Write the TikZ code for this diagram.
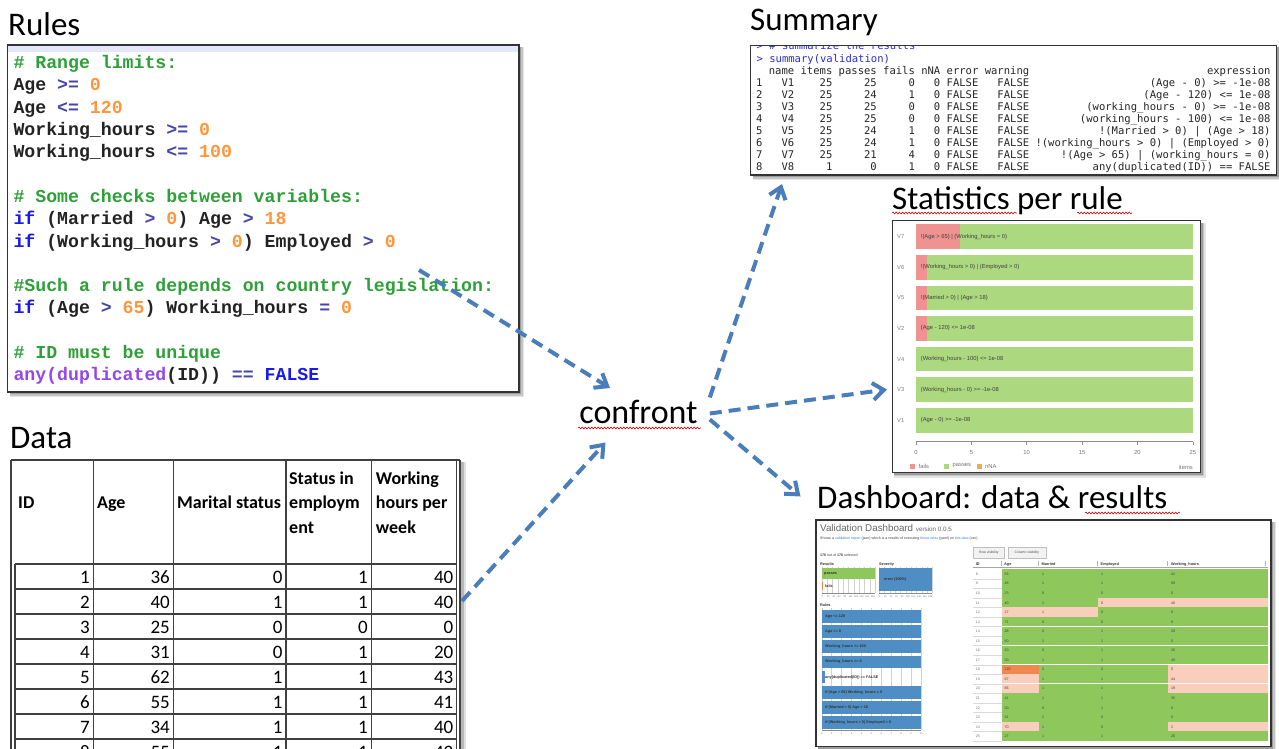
\documentclass[tikz,border=0pt]{standalone}
\usepackage{fontspec}
\setmainfont{Carlito}
\newfontfamily\codefont{Liberation Mono}
\newfontfamily\consfont{DejaVu Sans Mono}
\newfontfamily\uifont{Liberation Sans}
\usetikzlibrary{arrows.meta,calc,decorations.pathmorphing}

\definecolor{flowblue}{RGB}{74,126,187}
\definecolor{cmt}{RGB}{45,160,55}
\definecolor{num}{RGB}{255,150,60}
\definecolor{opr}{RGB}{70,70,170}
\definecolor{kwd}{RGB}{25,25,235}
\definecolor{fnc}{RGB}{150,70,230}
\definecolor{txt}{RGB}{35,35,35}
\definecolor{rblue}{RGB}{45,45,200}
\definecolor{failp}{RGB}{238,146,146}
\definecolor{passg}{RGB}{172,216,128}
\definecolor{nnao}{RGB}{240,170,80}
\definecolor{dgreen}{RGB}{142,200,92}
\definecolor{salmon}{RGB}{250,206,188}
\definecolor{hotor}{RGB}{238,136,80}
\definecolor{dblue}{RGB}{78,142,196}
\definecolor{linkb}{RGB}{60,130,230}
\definecolor{lav}{RGB}{228,230,250}

% right edge of a character column in the R console output
\newcommand\colx[1]{762.7+6.35*#1}

% framed panel with a soft drop shadow: name, x1, y1, x2, y2
\newcommand\panel[5]{%
  \fill[black,opacity=.10] (#2+2,#3+2) rectangle (#4+5,#5+5);
  \fill[black,opacity=.14] (#2+2,#3+2) rectangle (#4+3.5,#5+3.5);
  \fill[black,opacity=.20] (#2+2,#3+2) rectangle (#4+2,#5+2);
  \node[panel, minimum width={#4-#2}, minimum height={#5-#3}, anchor=north west] (#1) at (#2,#3) {};}

\begin{document}
\begin{tikzpicture}[x=1pt,y=-1pt,
  flow/.style={draw=flowblue, line width=4pt, dash pattern=on 12pt off 7pt,
    -{Straight Barb[length=11pt,width=17pt]}},
  panel/.style={draw=black!80, line width=1.4pt, fill=white, inner sep=0pt, outer sep=0pt},
  title/.style={anchor=base west, inner sep=0pt, font=\fontsize{33}{40}\selectfont},
  code/.style={anchor=base west, inner sep=0pt, text=txt, font=\codefont\bfseries\fontsize{18.2}{22}\selectfont},
  spell/.style={draw=red!85!black, line width=0.6pt, decorate,
    decoration={snake, amplitude=0.9pt, segment length=3.2pt}},
  tbl/.style={draw=black!75, line width=1.3pt},
  hdr/.style={anchor=base west, inner sep=0pt, font=\bfseries\fontsize{18}{25}\selectfont},
  dat/.style={anchor=base east, inner sep=0pt, font=\fontsize{19}{22}\selectfont},
  rc/.style={anchor=base east, inner sep=0pt, text=black!85, font=\consfont\fontsize{10.55}{12}\selectfont},
  ct/.style={inner sep=0pt, text=black!75, font=\uifont\fontsize{5.8}{7}\selectfont},
  dt/.style={anchor=base west, inner sep=0pt, text=black!75, font=\uifont\fontsize{3.6}{4}\selectfont},
  dtb/.style={anchor=base west, inner sep=0pt, text=black!80, font=\uifont\bfseries\fontsize{3.8}{4}\selectfont},
  dm/.style={inner sep=0pt, text=black!55, font=\uifont\fontsize{2.4}{3}\selectfont},
]
\path[use as bounding box] (0,0) rectangle (1279,749);
\clip (0,0) rectangle (1279,749);
\fill[white] (0,0) rectangle (1279,749);

% ---------------- titles ----------------
\node[title] (t-rules) at (8,36) {Rules};
\node[title] (t-summary) at (750,31) {Summary};
\node[title] (t-stats) at (892,209) {Statistics per rule};
\node[title] (t-data) at (10,448) {Data};
\node[title] (t-dash) at (817,508) {Dashboard: data \& results};
\node[anchor=base, inner xsep=12pt, inner ysep=2pt, font=\fontsize{34}{40}\selectfont] (confront) at (638.5,423) {confront};

\draw[spell] (578,428) -- (701,428);
\draw[spell] (892,213) -- (1017,213);
\draw[spell] (1077,213) -- (1132,213);
\draw[spell] (1085,513) -- (1180,513);

% ---------------- validation rules ----------------
\panel{rulesbox}{7.5}{45}{519}{392}
\fill[lav] (8.2,45.7) rectangle (518.3,52);
\node[code] (r1) at (13.3,68.3) {\textcolor{cmt}{\# Range limits:}};
\node[code] (r2) at (13.3,90.7) {Age \textcolor{opr}{>=} \textcolor{num}{0}};
\node[code] (r3) at (13.3,113.1) {Age \textcolor{opr}{<=} \textcolor{num}{120}};
\node[code] (r4) at (13.3,135.5) {Working\_hours \textcolor{opr}{>=} \textcolor{num}{0}};
\node[code] (r5) at (13.3,157.9) {Working\_hours \textcolor{opr}{<=} \textcolor{num}{100}};
\node[code] (r6) at (13.3,202.2) {\textcolor{cmt}{\# Some checks between variables:}};
\node[code] (r7) at (13.3,224.6) {\textcolor{kwd}{if} (Married \textcolor{opr}{>} \textcolor{num}{0}) Age \textcolor{opr}{>} \textcolor{num}{18}};
\node[code] (r8) at (13.3,247) {\textcolor{kwd}{if} (Working\_hours \textcolor{opr}{>} \textcolor{num}{0}) Employed \textcolor{opr}{>} \textcolor{num}{0}};
\node[code] (r9) at (13.3,291.3) {\textcolor{cmt}{\#Such a rule depends on country legislation:}};
\node[code] (r10) at (13.3,313.7) {\textcolor{kwd}{if} (Age \textcolor{opr}{>} \textcolor{num}{65}) Working\_hours \textcolor{opr}{=} \textcolor{num}{0}};
\node[code] (r11) at (13.3,358.3) {\textcolor{cmt}{\# ID must be unique}};
\node[code] (r12) at (13.3,380.5) {\textcolor{fnc}{any(duplicated}(ID)) \textcolor{opr}{==} \textcolor{kwd}{FALSE}};

% ---------------- data table ----------------
\fill[black,opacity=.12] (461,462) rectangle (466,749);
\fill[black,opacity=.18] (461,462) rectangle (463.5,749);
\draw[tbl] (11,460) -- (460,460);
\foreach \xx in {11,93.3,173.3,286,371.7,456.7,460}
  \draw[tbl] (\xx,460) -- (\xx,760);
\draw[tbl] (15,564) -- (15,760);
\foreach \yy in {564,589,614,639,664,689,714,739}
  \draw[tbl] (15,\yy) -- (456.7,\yy);
\node[hdr] (h-id) at (18,508) {ID};
\node[hdr] (h-age) at (97,508) {Age};
\node[hdr] (h-mar) at (177,508) {Marital status};
\node[hdr] (h-st1) at (289,484) {Status in};
\node[hdr] (h-st2) at (289,508) {employm};
\node[hdr] (h-st3) at (289,533) {ent};
\node[hdr] (h-wh1) at (375.7,484) {Working};
\node[hdr] (h-wh2) at (375.7,508) {hours per};
\node[hdr] (h-wh3) at (375.7,533) {week};
\foreach \va/\vb/\vc/\vd/\ve [count=\i] in
  {1/36/0/1/40, 2/40/1/1/40, 3/25/0/0/0, 4/31/0/1/20, 5/62/1/1/43, 6/55/1/1/41, 7/34/1/1/40, 8/55/1/1/42}
{
  \pgfmathsetmacro\yy{558+25*\i}
  \node[dat] (d\i-a) at (90,\yy) {\va};
  \node[dat] (d\i-b) at (170,\yy) {\vb};
  \node[dat] (d\i-c) at (282.7,\yy) {\vc};
  \node[dat] (d\i-d) at (368,\yy) {\vd};
  \node[dat] (d\i-e) at (453.5,\yy) {\ve};
}

% ---------------- summary console output ----------------
\panel{sumbox}{750.5}{45.5}{1276.5}{175}
\begin{scope}
  \clip (751.2,46.4) rectangle (1275.8,174.3);
  \node[rc, anchor=base west, text=rblue] (s-l0) at (756.4,49.3) {> \# summarize the results};
\end{scope}
\node[rc, anchor=base west, text=rblue] (s-l1) at (756.4,63) {> summary(validation)};
\node[rc] (s-h1) at (\colx{5},75) {name};
\node[rc] (s-h2) at (\colx{11},75) {items};
\node[rc] (s-h3) at (\colx{18},75) {passes};
\node[rc] (s-h4) at (\colx{24},75) {fails};
\node[rc] (s-h5) at (\colx{28},75) {nNA};
\node[rc] (s-h6) at (\colx{34},75) {error};
\node[rc] (s-h7) at (\colx{42},75) {warning};
\node[rc] (s-h8) at (\colx{80},75) {expression};
\foreach \rn/\rname/\ritems/\rpass/\rfail/\rna/\rexp [count=\i] in {
  1/V1/25/25/0/0/{(Age - 0) >= -1e-08},
  2/V2/25/24/1/0/{(Age - 120) <= 1e-08},
  3/V3/25/25/0/0/{(working\_hours - 0) >= -1e-08},
  4/V4/25/25/0/0/{(working\_hours - 100) <= 1e-08},
  5/V5/25/24/1/0/{!(Married > 0) | (Age > 18)},
  6/V6/25/24/1/0/{!(working\_hours > 0) | (Employed > 0)},
  7/V7/25/21/4/0/{!(Age > 65) | (working\_hours = 0)},
  8/V8/1/0/1/0/{any(duplicated(ID)) == FALSE}}
{
  \pgfmathsetmacro\yy{75+11.94*\i}
  \node[rc] (s\i-n) at (\colx{0},\yy) {\rn};
  \node[rc] (s\i-v) at (\colx{5},\yy) {\rname};
  \node[rc] (s\i-i) at (\colx{11},\yy) {\ritems};
  \node[rc] (s\i-p) at (\colx{18},\yy) {\rpass};
  \node[rc] (s\i-f) at (\colx{24},\yy) {\rfail};
  \node[rc] (s\i-a) at (\colx{28},\yy) {\rna};
  \node[rc] (s\i-e) at (\colx{34},\yy) {FALSE};
  \node[rc] (s\i-w) at (\colx{42},\yy) {FALSE};
  \node[rc] (s\i-x) at (\colx{80},\yy) {\rexp};
}

% ---------------- statistics per rule (bar chart) ----------------
\panel{statbox}{892.3}{220.7}{1200.7}{472.7}
\foreach \lab/\nfail/\ex [count=\i from 0] in {
  V7/4/{!(Age > 65) | (Working\_hours = 0)},
  V6/1/{!(Working\_hours > 0) | (Employed > 0)},
  V5/1/{!(Married > 0) | (Age > 18)},
  V2/1/{(Age - 120) <= 1e-08},
  V4/0/{(Working\_hours - 100) <= 1e-08},
  V3/0/{(Working\_hours - 0) >= -1e-08},
  V1/0/{(Age - 0) >= -1e-08}}
{
  \pgfmathsetmacro\yt{224.3+30.6*\i}
  \fill[passg] (916,\yt) rectangle (1192.7,\yt+24.7);
  \ifnum\nfail>0 \fill[failp] (916,\yt) rectangle (916+11.07*\nfail,\yt+24.7);\fi
  \node[ct, anchor=west] (sb\i) at (920.7,\yt+12.35) {\ex};
  \node[ct, text=black!50] (sv\i) at (900.7,\yt+12.35) {\lab};
}
\draw[black!45, line width=0.5pt] (916,441.7) -- (1192.7,441.7);
\foreach \tv [count=\k] in {0,5,10,15,20,25} {
  \draw[black!45, line width=0.5pt] (916+11.07*\tv,441.7) -- ++(0,3);
  \node[ct, text=black!55] (tk\k) at (916+11.07*\tv,452.7) {\tv};
}
\fill[failp] (910.2,463.5) rectangle ++(5,5);
\node[ct, anchor=west, text=black!55] (lg1) at (918.5,466) {fails};
\fill[passg] (944.2,463.5) rectangle ++(5,5);
\node[ct, anchor=west, text=black!55] (lg2) at (952.5,466) {passes};
\fill[nnao] (976.8,463.5) rectangle ++(5,5);
\node[ct, anchor=west, text=black!55] (lg3) at (985,466) {nNA};
\node[ct, anchor=east, text=black!55] (lg4) at (1193,467.5) {items};

% ---------------- dashboard screenshot ----------------
\panel{dashbox}{816}{520}{1271}{746.7}
\node[anchor=base west, inner sep=0pt, text=black!60, font=\uifont\fontsize{9.8}{11}\selectfont] (db-title) at (820,531)
  {Validation Dashboard {\fontsize{6.3}{7}\selectfont version 0.0.5}};
\node[dt] (db-sub) at (820,539.5) {Shows a \textcolor{linkb}{validation report} (json) which is a results of executing \textcolor{linkb}{these rules} (yaml) on \textcolor{linkb}{this data} (csv).};
\node[dt] (db-sel) at (820,556) {\textbf{176} out of \textbf{176} selected};
\node[dtb] (db-res) at (820,565) {Results};
\node[dtb] (db-sev) at (879,565) {Severity};
\foreach \k in {0,...,10} {
  \draw[black!18, line width=0.3pt] (821.7+5.33*\k,566.5) -- (821.7+5.33*\k,593);
  \draw[black!18, line width=0.3pt] (879+5.33*\k,566.5) -- (879+5.33*\k,593);
}
\fill[dgreen] (821.7,568.3) rectangle (875,579);
\fill[hotor] (821.7,581.7) rectangle (823.2,590);
\node[dtb, anchor=west] (db-pass) at (824,573.7) {passes};
\node[dtb, anchor=west] (db-fail) at (825,585.8) {fails};
\fill[dblue] (879,568.3) rectangle (932.3,591);
\node[dtb, anchor=west] (db-err) at (884,579.6) {error (100\%)};
\draw[black!45, line width=0.3pt] (821.7,593) -- (875,593);
\draw[black!45, line width=0.3pt] (879,593) -- (932.3,593);
\foreach \k in {0,...,9} {
  \node[dm] (rt\k) at (822.5+5.6*\k,597) {\pgfmathparse{int(20*\k)}\pgfmathresult};
  \node[dm] (vt\k) at (879.8+5.6*\k,597) {\pgfmathparse{int(20*\k)}\pgfmathresult};
}
\node[dtb] (db-rules) at (820,606.5) {Rules};
\foreach \k in {0,...,10}
  \draw[black!18, line width=0.3pt] (821.7+9.93*\k,608) -- (821.7+9.93*\k,730);
\foreach \lab/\bw [count=\i from 0] in {
  {Age <= 120}/99.3, {Age >= 0}/99.3, {Working\_hours <= 100}/99.3, {Working\_hours >= 0}/99.3,
  {any(duplicated(ID)) == FALSE}/3.5, {if (Age > 65) Working\_hours = 0}/99.3,
  {if (Married > 0) Age > 18}/99.3, {if (Working\_hours > 0) Employed > 0}/99.3}
{
  \pgfmathsetmacro\yt{610+15.2*\i}
  \fill[dblue] (821.7,\yt) rectangle (821.7+\bw,\yt+12.6);
  \node[dtb, anchor=west] (rb\i) at (825,\yt+6.3) {\lab};
}
\draw[black!45, line width=0.3pt] (821.7,730) -- (921,730);
\foreach \k in {0,...,10}
  \node[dm] (rx\k) at (821.7+9.93*\k,734) {\k};

% data grid of the dashboard
\node[draw=black!25, fill=black!5, minimum width=31pt, minimum height=11pt, inner sep=0pt,
  font=\uifont\fontsize{3.4}{4}\selectfont, text=black!70] (btn-row) at (988.8,552.2) {Row visibility};
\node[draw=black!25, fill=black!5, minimum width=37.7pt, minimum height=11pt, inner sep=0pt,
  font=\uifont\fontsize{3.4}{4}\selectfont, text=black!70] (btn-col) at (1026.9,552.2) {Column visibility};
\node[dtb] (gh-id) at (975.7,565) {ID};
\node[dtb] (gh-age) at (1004,565) {Age};
\node[dtb] (gh-mar) at (1041.5,565) {Married};
\node[dtb] (gh-emp) at (1100.5,565) {Employed};
\node[dtb] (gh-wh) at (1171,565) {Working\_hours};
\foreach \xx in {1002,1039.3,1098.3,1168.3,1266}
  \draw[black!30, line width=0.3pt] (\xx-1,561) -- (\xx-1,565.5);
\draw[black!35, line width=0.5pt] (973,567.6) -- (1268.3,567.6);
\foreach \rid/\gA/\gM/\gE/\gW/\cA/\cM/\cE/\cW [count=\i from 0] in {
  8/55/1/1/42/dgreen/dgreen/dgreen/dgreen,
  9/46/1/1/58/dgreen/dgreen/dgreen/dgreen,
  10/23/0/0/0/dgreen/dgreen/dgreen/dgreen,
  11/40/1/0/40/dgreen/dgreen/salmon/salmon,
  12/17/1/0/0/salmon/salmon/dgreen/dgreen,
  13/71/0/0/0/dgreen/dgreen/dgreen/dgreen,
  14/28/0/1/28/dgreen/dgreen/dgreen/dgreen,
  15/60/1/1/5/dgreen/dgreen/dgreen/dgreen,
  16/20/0/1/26/dgreen/dgreen/dgreen/dgreen,
  17/30/1/1/40/dgreen/dgreen/dgreen/dgreen,
  18/125/0/0/0/hotor/dgreen/dgreen/salmon,
  19/67/1/1/44/salmon/dgreen/dgreen/salmon,
  20/66/1/1/19/salmon/dgreen/dgreen/salmon,
  21/41/1/1/35/dgreen/dgreen/dgreen/dgreen,
  22/30/0/1/0/dgreen/dgreen/dgreen/dgreen,
  23/61/1/0/0/dgreen/dgreen/dgreen/dgreen,
  24/70/1/0/2/salmon/dgreen/dgreen/salmon,
  25/27/1/1/26/dgreen/dgreen/dgreen/dgreen}
{
  \pgfmathsetmacro\yt{569.3+9.54*\i}
  \fill[\cA] (1002,\yt) rectangle (1039.3,\yt+9.54);
  \fill[\cM] (1039.3,\yt) rectangle (1098.3,\yt+9.54);
  \fill[\cE] (1098.3,\yt) rectangle (1168.3,\yt+9.54);
  \fill[\cW] (1168.3,\yt) rectangle (1268.3,\yt+9.54);
  \draw[white, line width=0.6pt] (1002,\yt+9.54) -- (1268.3,\yt+9.54);
  \draw[black!15, line width=0.4pt] (973,\yt+9.54) -- (1002,\yt+9.54);
  \node[dt, anchor=west, text=black!55] (g\i-id) at (975.7,\yt+4.9) {\rid};
  \node[dt, anchor=west] (g\i-a) at (1004.5,\yt+4.9) {\gA};
  \node[dt, anchor=west] (g\i-m) at (1042,\yt+4.9) {\gM};
  \node[dt, anchor=west] (g\i-e) at (1101,\yt+4.9) {\gE};
  \node[dt, anchor=west] (g\i-w) at (1171,\yt+4.9) {\gW};
}

% ---------------- flow between the parts ----------------
\coordinate (rules-tail) at (419,270);
\coordinate (data-tail) at (462,601);
\coordinate (cf-in-rules) at (610,388);
\coordinate (cf-in-data) at (605.5,442.5);
\coordinate (sum-in) at (782,184);
\coordinate (stat-in) at (887,389.5);
\coordinate (dash-in) at (800.5,496.5);
\draw[flow] (rules-tail) -- (cf-in-rules);
\draw[flow] (data-tail) -- (cf-in-data);
\draw[flow] ($(confront.east)+(0,-14)$) -- (sum-in);
\draw[flow] ($(confront.east)+(0,2)$) -- (stat-in);
\draw[flow] ($(confront.east)+(0,8)$) -- (dash-in);
\end{tikzpicture}
\end{document}
